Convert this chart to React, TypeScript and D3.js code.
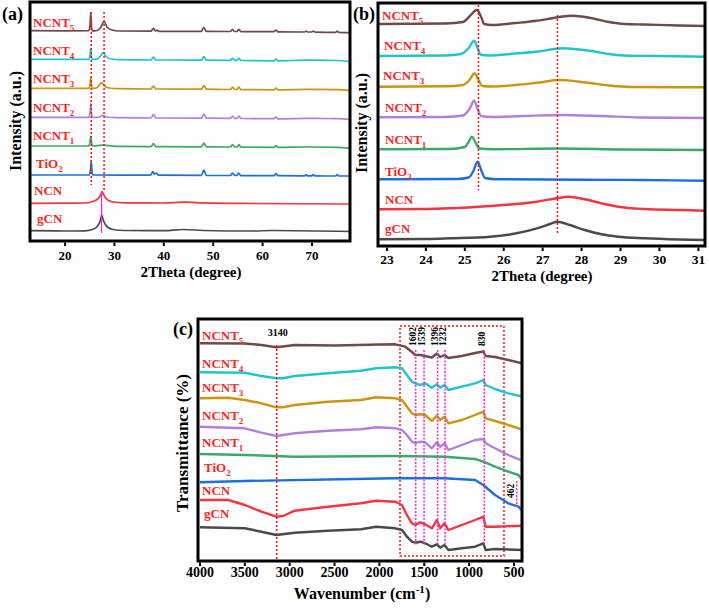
import React from "react";
import * as d3 from "d3";

type P = [number, number];

// ---------- samples ----------
const sampleMain = ["NCNT", "NCNT", "NCNT", "NCNT", "NCNT", "TiO", "NCN", "gCN"];
const sampleSub = ["5", "4", "3", "2", "1", "2", "", ""];
const sampleColors = ["#6f4a48", "#1fc4cc", "#c8960f", "#b27fe0", "#3aa96a", "#1c6fdc", "#f2353f", "#4a4a4a"];

// ---------- (a) XRD wide range: [2theta, intensity a.u.] ----------
const xrdA_NCNT5: P[] = [[12.9,210.3],[20,210.2],[24.8,210.3],[25.05,215],[25.2,228.3],[25.35,215],[25.5,210],[26.5,210.5],[27.2,213.5],[27.9,219.3],[28.5,214],[29.5,211],[31,210],[37.4,209.8],[37.9,212.7],[38.3,210],[38.6,210.8],[39,209.7],[47.6,209.6],[48.1,213.7],[48.6,209.6],[53.5,209.5],[53.9,211.7],[54.3,209.5],[54.8,209.5],[55.2,211.7],[55.6,209.4],[62.3,209.3],[62.7,211],[63.1,209.2],[68.5,209],[68.8,210],[69.1,209],[70,209],[70.3,210],[70.6,208.9],[74.8,208.7],[75.1,209.8],[75.4,208.6],[77.7,208.3]];
const xrdA_NCNT4: P[] = [[12.9,181.7],[24.8,181.7],[25.05,185],[25.2,192.7],[25.35,185],[25.5,181.5],[26.5,182],[27.2,185],[27.7,188.3],[28.3,184.5],[29.3,182],[31,181.3],[37.4,181],[37.9,184],[38.4,181],[47.6,180.8],[48.1,184.5],[48.6,180.8],[53.5,180.6],[53.9,183],[54.4,180.6],[54.8,180.6],[55.2,183],[55.6,180.5],[62.3,180.2],[62.7,182],[63.1,180.2],[68.8,180.8],[70.3,180.8],[75.1,180.5],[77.7,179.3]];
const xrdA_NCNT3: P[] = [[12.9,152.7],[24.8,152.7],[25.05,156],[25.2,163.7],[25.35,156],[25.5,152.5],[26.3,153],[26.9,155.5],[27.4,158.3],[28,155],[29,153],[31,152.3],[37.4,152],[37.9,155],[38.4,152],[47.6,151.8],[48.1,155.5],[48.6,151.8],[53.5,151.5],[53.9,154],[54.4,151.5],[54.8,151.5],[55.2,154],[55.6,151.4],[62.3,151.2],[62.7,153],[63.1,151.1],[68.8,151.6],[70.3,151.6],[75.1,151.3],[77.7,150.3]];
const xrdA_NCNT2: P[] = [[12.9,123.7],[24.8,123.7],[25.05,128],[25.2,137.7],[25.35,128],[25.5,123.5],[27,124],[27.6,125.7],[28.3,124],[31,123.3],[37.4,123],[37.9,126.5],[38.4,123],[47.6,122.8],[48.1,127],[48.6,122.8],[53.5,122.6],[53.9,125],[54.4,122.6],[54.8,122.6],[55.2,125],[55.6,122.5],[62.3,122.3],[62.7,124],[63.1,122.2],[68.8,122.7],[70.3,122.6],[75.1,122.4],[77.7,121.7]];
const xrdA_NCNT1: P[] = [[12.9,95],[24.8,95],[25.05,99],[25.2,105],[25.35,99],[25.5,95],[27.6,95.8],[31,94.6],[37.4,94.4],[37.9,97.5],[38.4,94.4],[47.6,94.2],[48.1,98],[48.6,94.2],[53.5,94],[53.9,96.5],[54.4,94],[54.8,94],[55.2,96.5],[55.6,93.9],[62.3,93.6],[62.7,95.5],[63.1,93.6],[68.8,94],[70.3,94],[75.1,93.7],[77.7,92.7]];
const xrdA_TiO2: P[] = [[12.9,66],[24.9,66],[25.12,70],[25.3,80],[25.45,70],[25.6,66],[31,65.8],[37.3,65.8],[37.8,69.3],[38.1,67],[38.5,68],[38.9,65.8],[47.6,65.6],[48.1,71],[48.6,65.6],[53.5,65.5],[53.9,68],[54.4,65.5],[54.8,65.5],[55.1,68],[55.6,65.4],[62.3,65.3],[62.7,67.3],[63.1,65.3],[68.5,65.2],[68.8,66.5],[69.1,65.2],[70,65.2],[70.3,66.5],[70.6,65.1],[74.8,65],[75.1,66.3],[75.4,65],[77.7,65]];
const xrdA_NCN: P[] = [[12.9,37.7],[20,37.8],[24,38],[25.5,39.3],[26.3,41],[26.9,43.5],[27.2,46],[27.5,49.3],[27.8,46.5],[28.2,43],[28.8,40.5],[29.8,39],[32,38.2],[40,38],[44,38.8],[48,38.2],[58,37.5],[77.7,37]];
const xrdA_gCN: P[] = [[12.9,10.3],[20,10],[24,10.2],[25.5,11.5],[26.3,13.5],[26.9,17.5],[27.2,21.5],[27.4,26],[27.7,21.5],[28.1,17],[28.7,13.5],[29.7,11.5],[32,10.5],[40,10.3],[44,11.5],[48,10.5],[58,10],[62,10.5],[77.7,9.5]];
const xrdASeries = [xrdA_NCNT5, xrdA_NCNT4, xrdA_NCNT3, xrdA_NCNT2, xrdA_NCNT1, xrdA_TiO2, xrdA_NCN, xrdA_gCN];
const xrdATicks = [20, 30, 40, 50, 60, 70];
const xrdARefLines = [25.3, 27.9];
const xrdAPeakLine = 27.4;

// ---------- (b) XRD zoom 23-31 ----------
const xrdB_NCNT5: P[] = [[22.8,222],[24.5,222.5],[24.95,224],[25.13,230],[25.31,236],[25.42,229],[25.5,222],[25.7,221],[26.3,223],[26.8,225],[27.2,227.5],[27.5,229.5],[27.75,230.3],[28.0,229.5],[28.3,227.5],[28.7,224],[29.1,222],[29.6,221.5],[30.5,220.5],[31.15,220]];
const xrdB_NCNT4: P[] = [[22.8,190],[24.5,190.5],[24.9,192],[25.1,198],[25.24,205.3],[25.33,198],[25.4,191.5],[25.6,190.5],[26.3,192.5],[26.9,194.5],[27.3,197],[27.53,197.7],[27.8,197],[28.2,195.3],[28.7,192],[29.2,190.3],[30,190],[31.15,189.3]];
const xrdB_NCNT3: P[] = [[22.8,159.3],[24.5,159.7],[24.95,161],[25.12,166],[25.25,172.7],[25.35,166],[25.45,160],[25.7,159.5],[26.3,161],[26.9,163.5],[27.45,166],[27.9,164.5],[28.2,163],[28.7,160.5],[29.3,159],[31.15,158.7]];
const xrdB_NCNT2: P[] = [[22.8,128.7],[24.5,129],[24.95,130.5],[25.12,137],[25.24,145.3],[25.33,137],[25.42,130],[25.7,129],[26.5,130],[27.5,131],[28.5,130],[29.5,128.5],[31.15,128]];
const xrdB_NCNT1: P[] = [[22.8,96.7],[24.6,97],[25.0,99],[25.1,104],[25.18,109.3],[25.28,103],[25.38,97.5],[25.7,96.8],[27.5,97.5],[29,96.5],[31.15,96]];
const xrdB_TiO2: P[] = [[22.8,66.7],[24.8,67],[25.1,68.5],[25.22,75],[25.33,84.3],[25.42,76],[25.52,68],[25.8,66.8],[28,66.3],[29.5,66],[31.15,65.3]];
const xrdB_NCN: P[] = [[22.8,36.7],[24.0,37],[24.6,37.7],[25.65,40],[26.33,42],[26.85,44.3],[27.36,47.7],[27.66,49.3],[28.08,46.7],[28.51,42.7],[28.94,39.3],[29.62,37],[30.5,36],[31.15,35.3]];
const xrdB_gCN: P[] = [[22.8,6.7],[24,7],[24.62,7.7],[25.65,9.3],[26.33,12.7],[26.85,17.7],[27.19,22],[27.38,24.3],[27.7,21],[28.08,16],[28.51,11.7],[28.94,9.3],[29.62,7.7],[30.5,6.5],[31.15,6]];
const xrdBSeries = [xrdB_NCNT5, xrdB_NCNT4, xrdB_NCNT3, xrdB_NCNT2, xrdB_NCNT1, xrdB_TiO2, xrdB_NCN, xrdB_gCN];
const xrdBTicks = [23, 24, 25, 26, 27, 28, 29, 30, 31];
const xrdBRefLines = [25.35, 27.38];

// ---------- (c) FTIR: [wavenumber, transmittance a.u.] ----------
const ftir_NCNT5: P[] = [[4000,217.7],[3500,217.5],[3315,216],[3148,213.7],[2944,216],[2500,215.5],[2000,216.5],[1822,216.7],[1711,214.3],[1637,209],[1600,206],[1544,206],[1489,205],[1415,203.5],[1359,207.5],[1322,204],[1274,206],[1230,203],[1081,205],[933,208],[841,209.5],[815,205],[711,204],[563,201],[396,197.5]];
const ftir_NCNT4: P[] = [[4000,188.7],[3500,188.3],[3315,185],[3148,182.7],[3074,182.7],[2944,185],[2574,187.7],[2204,190.3],[2037,192.7],[1822,193.7],[1748,192.7],[1693,186],[1637,179.3],[1600,177.7],[1544,176],[1489,177.7],[1415,173.3],[1359,176.7],[1322,173.3],[1274,176],[1230,171],[1081,174.3],[933,177.7],[841,181],[815,176],[711,172],[563,167.7],[396,164.3]];
const ftir_NCNT3: P[] = [[4000,162.7],[3685,163.3],[3500,161],[3315,157.7],[3148,153.7],[3074,153.7],[2944,156],[2574,159.3],[2204,161],[2037,163.7],[1822,162.7],[1748,161],[1693,154.3],[1637,147.7],[1600,146],[1544,146.7],[1489,146],[1415,140],[1359,145.3],[1322,141],[1274,144.3],[1230,137.7],[1081,141],[933,146],[841,149.3],[815,142.7],[711,140],[563,136],[396,131]];
const ftir_NCNT2: P[] = [[4000,134.3],[3500,132.7],[3315,128.3],[3148,125],[2944,127.7],[2574,130.3],[2204,131.7],[2037,133.7],[1822,132.7],[1748,131],[1693,126],[1637,119.3],[1600,117.7],[1544,119.3],[1489,118.7],[1415,112.7],[1359,118.7],[1322,114.3],[1274,117.7],[1230,111],[1081,116],[933,121],[841,122],[815,117.7],[711,112.7],[563,106],[396,100]];
const ftir_NCNT1: P[] = [[4000,107],[3500,106],[2944,104.3],[1833,105],[1274,104.3],[933,102],[841,99.3],[711,94.3],[563,89.3],[450,86],[396,79.3]];
const ftir_TiO2: P[] = [[4000,78.7],[3500,80],[1833,82.7],[1274,82.7],[933,81],[841,76],[711,66],[563,57.7],[450,54.3],[396,49.3]];
const ftir_NCN: P[] = [[4000,61],[3685,61],[3500,56],[3315,49.3],[3148,44.3],[3074,45],[2944,50.3],[2574,54.3],[2204,57.7],[2037,60.3],[1822,59.3],[1748,56],[1693,46],[1637,37.7],[1600,36],[1544,38.7],[1489,36.7],[1415,32.7],[1359,41],[1322,32.7],[1274,37.7],[1230,31],[1081,36],[933,41],[841,44.3],[815,34.3],[711,34.3],[396,35.3]];
const ftir_gCN: P[] = [[4000,33.7],[3500,32.7],[3315,29.3],[3148,26],[2944,28.3],[2574,30.3],[2204,31.7],[2037,34.3],[1822,32.7],[1748,31],[1693,24.3],[1637,19.3],[1600,18.3],[1544,19.3],[1489,17.7],[1415,14.3],[1359,16.7],[1322,13.3],[1274,16],[1230,11],[1081,12.7],[933,14.3],[841,17.7],[815,11],[711,12],[396,11]];
const ftirSeries = [ftir_NCNT5, ftir_NCNT4, ftir_NCNT3, ftir_NCNT2, ftir_NCNT1, ftir_TiO2, ftir_NCN, ftir_gCN];
const ftirTicks = [4000, 3500, 3000, 2500, 2000, 1500, 1000, 500];
const ftirBroadLabel = "3140";
const ftirBroadPos = 3145;
const ftirPeakLabels = ["1602", "1539", "1396", "1232", "830"];
const ftirPeakPos = [1595, 1502, 1350, 1268, 830];
const ftirLowLabel = "462";
const ftirLowPos = 469;
const ftirBox = [1770, 611];

const FONT = "'Liberation Serif','Times New Roman',Times,serif";
const LABEL_RED = "#ff1f1f";

function Frame({ xs, ys, ticks, labelY, fontSize }: any) {
  const [x0, x1] = xs.range();
  const [y0, y1] = ys.range();
  return (
    <g>
      <rect x={x0} y={y1} width={x1 - x0} height={y0 - y1} fill="none" stroke="#000" strokeWidth={3} />
      {ticks.map((t: number) => (
        <g key={t}>
          <line x1={xs(t)} x2={xs(t)} y1={y0 + 1.5} y2={y0 + 5} stroke="#000" strokeWidth={2} />
          <text x={xs(t)} y={labelY} textAnchor="middle" fontFamily={FONT} fontWeight="bold" fontSize={fontSize} fill="#000">{t}</text>
        </g>
      ))}
    </g>
  );
}

function SampleLabel({ x, y, i }: any) {
  return (
    <text x={x} y={y} fontFamily={FONT} fontWeight="bold" fontSize={13} fill={LABEL_RED}>
      {sampleMain[i]}
      {sampleSub[i] ? <tspan dy={4} fontSize={9}>{sampleSub[i]}</tspan> : null}
    </text>
  );
}

export default function App() {
  const xa = d3.scaleLinear().domain([12.9, 77.7]).range([30, 350]);
  const ya = d3.scaleLinear().domain([0, 239]).range([241, 2]);
  const xb = d3.scaleLinear().domain([22.77, 31.17]).range([378, 705]);
  const yb = d3.scaleLinear().domain([0, 243]).range([246, 3]);
  const xc = d3.scaleLinear().domain([4022, 410]).range([198, 522]);
  const yc = d3.scaleLinear().domain([0, 242]).range([561, 319]);

  const lineA = d3.line<P>().x((d) => xa(d[0])).y((d) => ya(d[1])).curve(d3.curveMonotoneX);
  const lineB = d3.line<P>().x((d) => xb(d[0])).y((d) => yb(d[1])).curve(d3.curveMonotoneX);
  const lineC = d3.line<P>().x((d) => xc(d[0])).y((d) => yc(d[1]));

  const labelA = [[33, 26.7], [33, 55], [33, 83], [33, 112], [33, 140], [36, 168], [34, 195], [37, 223]];
  const labelB = [[382, 20], [384, 50], [383, 80], [385, 112], [385, 144], [385, 176], [385, 204], [385, 233]];
  const labelC = [[202, 340], [202, 368], [202, 392], [202, 420], [202, 447], [204, 472], [202, 495], [204, 518]];

  const red = "#ff1010";
  const magenta = "#ff20e0";

  return (
    <svg width={709} height={608} style={{ position: "absolute", left: 0, top: 0, background: "#fff" }}>
      <defs>
        <clipPath id="clipA"><rect x={30} y={2} width={320} height={239} /></clipPath>
        <clipPath id="clipB"><rect x={378} y={3} width={327} height={243} /></clipPath>
        <clipPath id="clipC"><rect x={198} y={319} width={324} height={242} /></clipPath>
      </defs>
      <rect x={0} y={0} width={709} height={608} fill="#fff" />

      {/* ---------- Panel (a) ---------- */}
      <g clipPath="url(#clipA)">
        {xrdASeries.map((s, i) => (
          <path key={i} d={lineA(s) || ""} fill="none" stroke={sampleColors[i]} strokeWidth={1.7} />
        ))}
        <line x1={xa(xrdARefLines[0])} x2={xa(xrdARefLines[0])} y1={ya(229)} y2={ya(56)} stroke={red} strokeWidth={1.5} strokeDasharray="2,2" />
        <line x1={xa(xrdARefLines[1])} x2={xa(xrdARefLines[1])} y1={ya(229)} y2={ya(49)} stroke={red} strokeWidth={1.5} strokeDasharray="2,2" />
        <line x1={xa(xrdAPeakLine)} x2={xa(xrdAPeakLine)} y1={ya(49)} y2={ya(8)} stroke={magenta} strokeWidth={1.2} />
      </g>
      <Frame xs={xa} ys={ya} ticks={xrdATicks} labelY={260} fontSize={13} />
      {labelA.map(([x, y], i) => <SampleLabel key={i} x={x} y={y} i={i} />)}
      <text x={2} y={20} fontFamily={FONT} fontWeight="bold" fontSize={18}>(a)</text>
      <text transform="translate(21,121) rotate(-90)" textAnchor="middle" fontFamily={FONT} fontWeight="bold" fontSize={16}>Intensity (a.u.)</text>
      <text x={191} y={277} textAnchor="middle" fontFamily={FONT} fontWeight="bold" fontSize={15}>2Theta (degree)</text>

      {/* ---------- Panel (b) ---------- */}
      <g clipPath="url(#clipB)">
        {xrdBSeries.map((s, i) => (
          <path key={i} d={lineB(s) || ""} fill="none" stroke={sampleColors[i]} strokeWidth={2.4} />
        ))}
        <line x1={xb(xrdBRefLines[0])} x2={xb(xrdBRefLines[0])} y1={yb(241)} y2={yb(56)} stroke={red} strokeWidth={1.5} strokeDasharray="2,2" />
        <line x1={xb(xrdBRefLines[1])} x2={xb(xrdBRefLines[1])} y1={yb(231)} y2={yb(13)} stroke={red} strokeWidth={1.5} strokeDasharray="2,2" />
      </g>
      <Frame xs={xb} ys={yb} ticks={xrdBTicks} labelY={264} fontSize={13.5} />
      {labelB.map(([x, y], i) => <SampleLabel key={i} x={x} y={y} i={i} />)}
      <text x={353} y={20} fontFamily={FONT} fontWeight="bold" fontSize={18}>(b)</text>
      <text transform="translate(367,123) rotate(-90)" textAnchor="middle" fontFamily={FONT} fontWeight="bold" fontSize={16}>Intensity (a.u.)</text>
      <text x={542} y={281} textAnchor="middle" fontFamily={FONT} fontWeight="bold" fontSize={15}>2Theta (degree)</text>

      {/* ---------- Panel (c) ---------- */}
      <g clipPath="url(#clipC)">
        <rect x={xc(ftirBox[0])} y={yc(235)} width={xc(ftirBox[1]) - xc(ftirBox[0])} height={yc(5) - yc(235)} fill="none" stroke={red} strokeWidth={1.5} strokeDasharray="2,2" />
        {ftirSeries.map((s, i) => (
          <path key={i} d={lineC(s) || ""} fill="none" stroke={sampleColors[i]} strokeWidth={2.4} strokeLinejoin="round" />
        ))}
        <line x1={xc(ftirBroadPos)} x2={xc(ftirBroadPos)} y1={yc(216)} y2={yc(0)} stroke={red} strokeWidth={1.5} strokeDasharray="2,2" />
        {ftirPeakPos.map((p, i) => (
          <line key={i} x1={xc(p)} x2={xc(p)} y1={yc(211)} y2={yc(15)} stroke={magenta} strokeWidth={1.5} strokeDasharray="2,1.5" />
        ))}
        <line x1={xc(ftirLowPos)} x2={xc(ftirLowPos)} y1={yc(80)} y2={yc(54)} stroke={magenta} strokeWidth={1.5} strokeDasharray="2,1.5" />
      </g>
      <Frame xs={xc} ys={yc} ticks={ftirTicks} labelY={577} fontSize={14} />
      {labelC.map(([x, y], i) => <SampleLabel key={i} x={x} y={y} i={i} />)}
      <text x={xc(ftirBroadPos) + 1} y={336} textAnchor="middle" fontFamily={FONT} fontWeight="bold" fontSize={10}>{ftirBroadLabel}</text>
      {ftirPeakPos.map((p, i) => (
        <text key={i} transform={`translate(${xc(p) - 1.5},346) rotate(-90)`} dominantBaseline="middle" fontFamily={FONT} fontWeight="bold" fontSize={9.5}>{ftirPeakLabels[i]}</text>
      ))}
      <text transform={`translate(${xc(ftirLowPos) - 4.5},498) rotate(-90)`} dominantBaseline="middle" fontFamily={FONT} fontWeight="bold" fontSize={9.5}>{ftirLowLabel}</text>
      <text x={173} y={335} fontFamily={FONT} fontWeight="bold" fontSize={18}>(c)</text>
      <text transform="translate(188,443) rotate(-90)" textAnchor="middle" fontFamily={FONT} fontWeight="bold" fontSize={17}>Transmittance (%)</text>
      <text x={362} y={599} textAnchor="middle" fontFamily={FONT} fontWeight="bold" fontSize={16}>
        Wavenumber (cm<tspan dy={-6} fontSize={11}>-1</tspan><tspan dy={6}>)</tspan>
      </text>
    </svg>
  );
}
